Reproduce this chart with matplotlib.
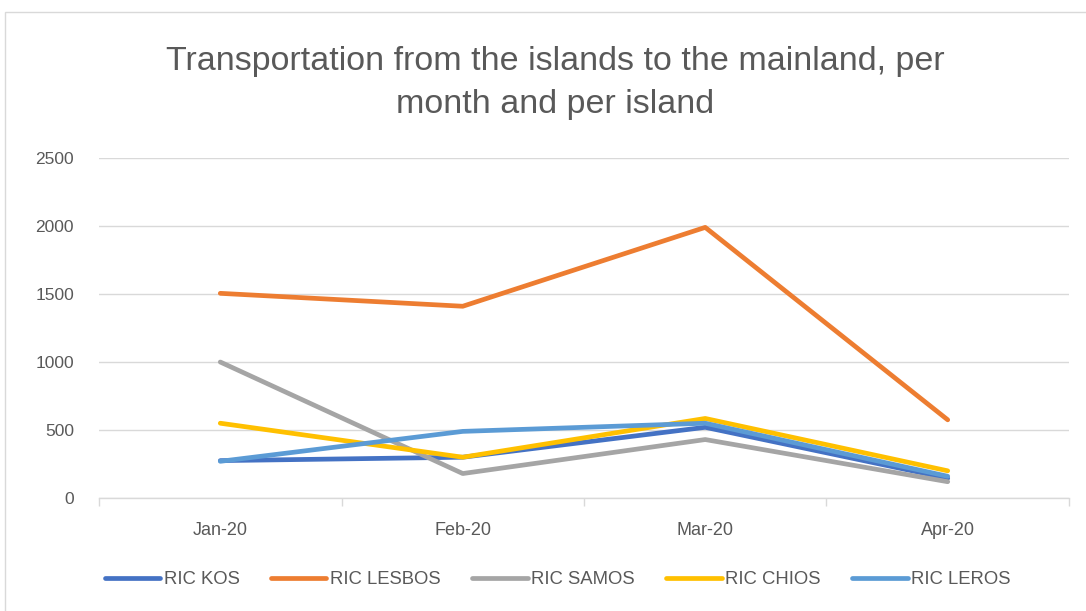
import matplotlib.pyplot as plt
from matplotlib.patches import Rectangle

plt.rcParams['font.family'] = ['Liberation Sans', 'DejaVu Sans']

# data
months = ['Jan-20', 'Feb-20', 'Mar-20', 'Apr-20']
kos = [275, 300, 520, 145]
lesbos = [1505, 1410, 1990, 575]
samos = [1000, 180, 430, 120]
chios = [550, 300, 585, 200]
leros = [270, 490, 550, 160]

series = [('RIC KOS', kos, '#4472C4'),
          ('RIC LESBOS', lesbos, '#ED7D31'),
          ('RIC SAMOS', samos, '#A5A5A5'),
          ('RIC CHIOS', chios, '#FFC000'),
          ('RIC LEROS', leros, '#5B9BD5')]

fig = plt.figure(figsize=(10.86, 6.11), dpi=100)
ax = fig.add_axes([0.0912, 0.1849, 0.8931, 0.5565])

x = range(len(months))
for name, vals, col in series:
    ax.plot(x, vals, color=col, lw=3.4, label=name, solid_capstyle='round',
            solid_joinstyle='round')

ax.set_xlim(-0.5, len(months) - 0.5)
ax.set_ylim(0, 2500)
ax.set_yticks(range(0, 2501, 500))
ax.set_xticks(list(x))
ax.set_xticklabels(months)
ax.set_xticks([i + 0.5 for i in range(-1, len(months))], minor=True)
ax.tick_params(axis='both', which='major', length=0, labelsize=13, colors='#595959')
ax.tick_params(axis='x', which='major', pad=17)
ax.tick_params(axis='y', pad=18, labelsize=12.5)
ax.tick_params(axis='x', which='minor', length=6, color='#D9D9D9', width=1)
ax.grid(axis='y', color='#D9D9D9', lw=1)
ax.set_axisbelow(True)
for s in ['top', 'right', 'left']:
    ax.spines[s].set_visible(False)
ax.spines['bottom'].set_color('#D9D9D9')
ax.spines['bottom'].set_linewidth(1)

# 标题（两行）
fig.text(0.511, 0.864, 'Transportation from the islands to the mainland, per\nmonth and per island',
         ha='center', va='center', fontsize=24.5, color='#595959', linespacing=1.47)

ax.legend(loc='center', bbox_to_anchor=(0.473, -0.241), ncol=5, frameon=False,
          fontsize=13.3, labelcolor='#595959', handlelength=3.0, handletextpad=0.2,
          columnspacing=1.7)

# chart border
fig.add_artist(Rectangle((5 / 1086, -0.1), 1.2, 1.1 - 12 / 611,
                         transform=fig.transFigure, fill=False, ec='#D9D9D9', lw=1))

plt.savefig('out.png', dpi=100)
